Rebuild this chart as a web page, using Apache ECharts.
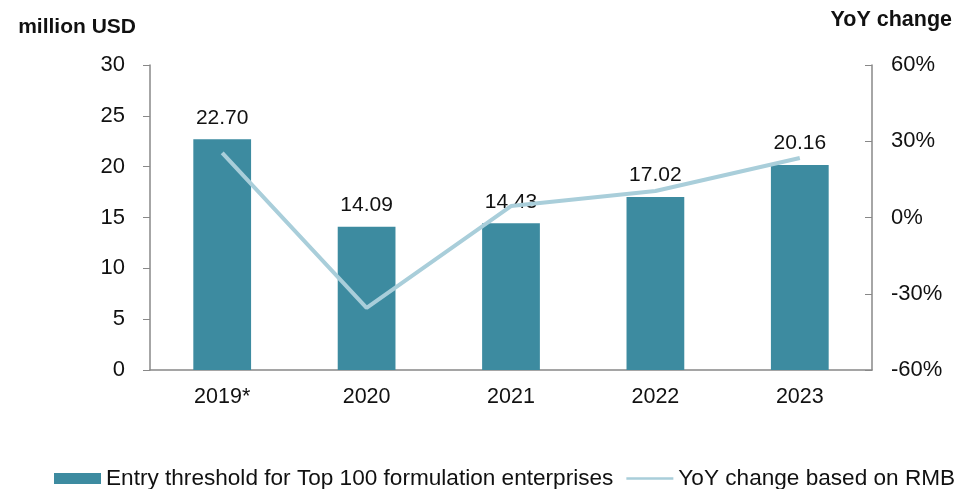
<!DOCTYPE html>
<html>
<head>
<meta charset="utf-8">
<script src="https://cdn.jsdelivr.net/npm/echarts@6/dist/echarts.min.js"></script>
<style>html,body{margin:0;padding:0;background:#fff;}#c{width:959px;height:489px;}</style>
</head>
<body>
<div id="c"></div>
<script>
const categories = ['2019*', '2020', '2021', '2022', '2023'];
const thresholdValues = [22.70, 14.09, 14.43, 17.02, 20.16];
const yoyValues = [25.4, -35.6, 4.5, 10.4, 23.4];
const leftTicks = [0, 5, 10, 15, 20, 25, 30];
const rightTicks = [-60, -30, 0, 30, 60];

const font = 'Arial, "Liberation Sans", sans-serif';
const chart = echarts.init(document.getElementById('c'));
chart.setOption({
  animation: false,
  textStyle: { fontFamily: font },
  grid: { left: 150, right: 87, top: 65, bottom: 119, containLabel: false },
  legend: {
    top: 467,
    left: 54,
    width: 905,
    padding: 0,
    itemGap: 13,
    textStyle: { fontSize: 22.6, color: '#111', fontFamily: font },
    data: [
      { name: 'Entry threshold for Top 100 formulation enterprises', icon: 'rect', itemStyle: { color: '#3D8BA0' } },
      { name: 'YoY change based on RMB', icon: 'path://M0,0 L48,0 L48,2.4 L0,2.4 Z', itemStyle: { color: '#A9CEDA' } }
    ],
    itemWidth: 47,
    itemHeight: 11
  },
  xAxis: {
    type: 'category',
    data: categories,
    axisLine: { lineStyle: { color: '#888', width: 1.5 } },
    axisTick: { show: false },
    axisLabel: { fontSize: 21.5, color: '#111', margin: 16 }
  },
  yAxis: [
    {
      type: 'value',
      min: 0, max: 30, interval: 5,
      name: 'million USD',
      nameLocation: 'end',
      nameGap: 27,
      nameTextStyle: { fontSize: 21, fontWeight: 'bold', color: '#111', align: 'right', padding: [0, 14, 0, 0] },
      splitLine: { show: false },
      axisLine: { show: true, lineStyle: { color: '#888', width: 1.5 } },
      axisTick: { show: true, length: 7, lineStyle: { color: '#888' } },
      axisLabel: { fontSize: 22, color: '#111', margin: 25, formatter: v => leftTicks.includes(v) ? String(v) : '' }
    },
    {
      type: 'value',
      min: -60, max: 60, interval: 30,
      name: 'YoY change',
      nameLocation: 'end',
      nameGap: 34,
      nameTextStyle: { fontSize: 21.5, fontWeight: 'bold', color: '#111', align: 'right', padding: [0, -80, 0, 0] },
      splitLine: { show: false },
      axisLine: { show: true, lineStyle: { color: '#888', width: 1.5 } },
      axisTick: { show: true, inside: true, length: 7, lineStyle: { color: '#888' } },
      axisLabel: { fontSize: 22, color: '#111', margin: 19, formatter: v => rightTicks.includes(v) ? v + '%' : '' }
    }
  ],
  series: [
    {
      name: 'Entry threshold for Top 100 formulation enterprises',
      type: 'bar',
      data: thresholdValues,
      barWidth: '40%',
      itemStyle: { color: '#3D8BA0' },
      label: { show: true, position: 'top', distance: 11, fontSize: 21, color: '#111', formatter: p => p.value.toFixed(2) }
    },
    {
      name: 'YoY change based on RMB',
      type: 'line',
      yAxisIndex: 1,
      data: yoyValues,
      symbol: 'none',
      lineStyle: { color: '#A9CEDA', width: 4 },
      itemStyle: { color: '#A9CEDA' },
      z: 5
    }
  ]
});
</script>
</body>
</html>
